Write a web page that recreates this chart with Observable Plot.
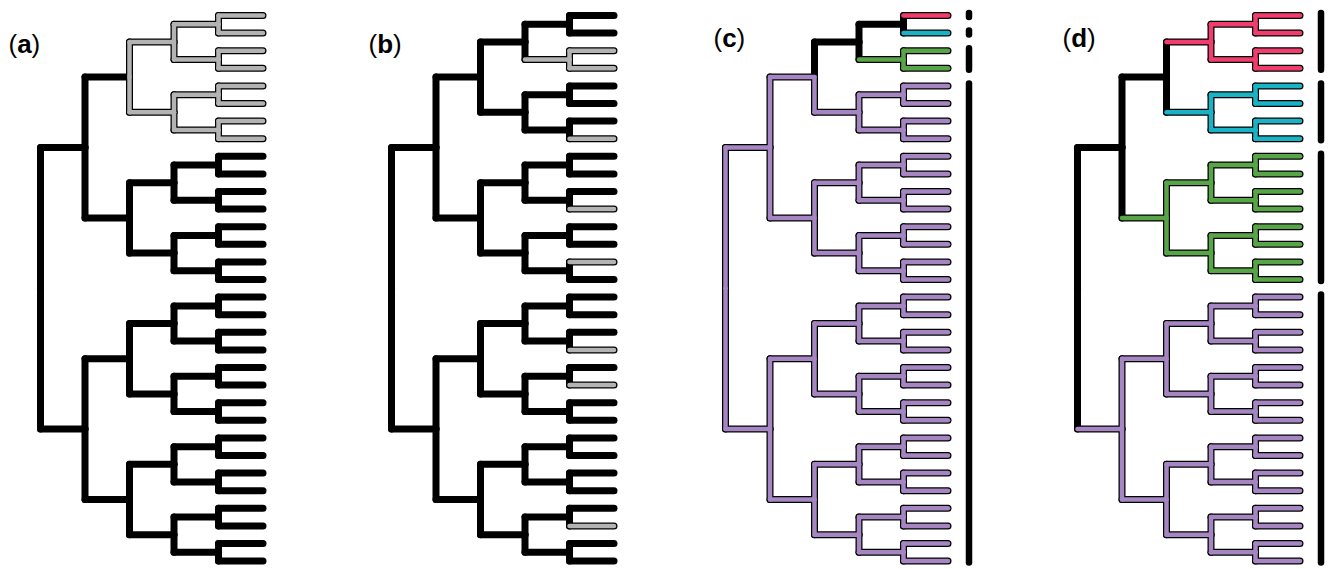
<!DOCTYPE html>
<html><head><meta charset="utf-8">
<script src="https://cdn.jsdelivr.net/npm/d3@7"></script>
<script src="https://cdn.jsdelivr.net/npm/@observablehq/plot@0.6"></script>
<style>
body{margin:0;background:#fff;}
#root{position:relative;width:1329px;height:569px;overflow:hidden;}
#root > svg{position:absolute;top:0;}
</style></head><body><div id="root"></div>
<script>
// ---------------- data ----------------
const panelIds = ["a", "b", "c", "d"];
const treeDepth = 5; // balanced tree: 2^5 = 32 tips
const colorNames = ["black", "grey", "purple", "red", "cyan", "green"];
const colorValues = ["#000000", "#b3b3b3", "#a586c2", "#ef3d6e", "#1ab3c6", "#58a547"];

// clades painted a colour (node id = "level-index")
const paintPanel = ["a", "b", "b", "b", "b", "b", "b", "b", "c", "c", "c", "c", "c", "d", "d", "d", "d"];
const paintNode  = ["2-0", "4-1", "5-7", "5-11", "5-14", "5-19", "5-21", "5-29", "0-0", "3-0", "4-1", "5-0", "5-1", "3-0", "3-1", "2-1", "1-1"];
const paintColor = ["grey", "grey", "grey", "grey", "grey", "grey", "grey", "grey", "purple", "black", "green", "red", "cyan", "red", "cyan", "green", "purple"];

// stem (horizontal) colour overrides
const stemPanel = ["a"];
const stemNode = ["2-0"];
const stemColor = ["black"];
// vertical half overrides
const vertPanel = ["c"];
const vertNode = ["3-0"];
const vertColor = ["black"];

// group bars to the right of tips
const barPanel = ["c", "c", "c", "c", "d", "d", "d", "d"];
const barFirst = [0, 1, 2, 4, 0, 4, 8, 16];
const barLast  = [0, 1, 3, 31, 3, 7, 15, 31];

// ---------------- layout ----------------
const panelLeft = [0, 351, 685, 1037];
const labelX = [8, 17, 28, 25];
const labelBaseline = [52, 52, 46, 46];
const H = 569;

const palette = Object.fromEntries(colorNames.map((n, i) => [n, colorValues[i]]));
const nLeaves = 2 ** treeDepth;

function nodeY(l, i) {
  const span = 2 ** (treeDepth - l);
  const first = i * span;
  return (first + first + span - 1) / 2;
}
function nodeColor(panel, l, i) {
  let best = -1, col = "black";
  paintPanel.forEach((p, k) => {
    if (p !== panel) return;
    const [pl, pi] = paintNode[k].split("-").map(Number);
    if (pl <= l && (i >> (l - pl)) === pi && pl > best) { best = pl; col = paintColor[k]; }
  });
  return col;
}
function override(panels, nodes, cols, panel, id) {
  for (let k = 0; k < panels.length; k++) if (panels[k] === panel && nodes[k] === id) return cols[k];
  return null;
}
function segments(panel) {
  const segs = [];
  for (let l = 1; l <= treeDepth; l++) {
    for (let i = 0; i < 2 ** l; i++) {
      const id = `${l}-${i}`;
      const pl = l - 1, pi = i >> 1;
      const py = nodeY(pl, pi), cy = nodeY(l, i);
      const vc = override(vertPanel, vertNode, vertColor, panel, id) || nodeColor(panel, pl, pi);
      const hc = override(stemPanel, stemNode, stemColor, panel, id) || nodeColor(panel, l, i);
      segs.push({x1: pl, y1: py, x2: pl, y2: cy, color: vc});
      segs.push({x1: pl, y1: cy, x2: l, y2: cy, color: hc});
    }
  }
  return segs;
}

const canvas = document.createElement("canvas");
const ctx = canvas.getContext("2d");
const FONT = "'Liberation Sans', Arial, Helvetica, sans-serif";
function measure(t, bold) { ctx.font = `${bold ? "bold " : ""}26px ${FONT}`; return ctx.measureText(t).width; }

const root = document.getElementById("root");
panelIds.forEach((panel, pIdx) => {
  const left = panelLeft[pIdx];
  const w = (pIdx < panelIds.length - 1 ? panelLeft[pIdx + 1] : 1329) - left;
  const segs = segments(panel);
  const colored = segs.filter(s => s.color !== "black");
  const bars = barPanel.map((p, k) => ({p, first: barFirst[k], last: barLast[k]})).filter(b => b.p === panel);
  const lx = labelX[pIdx], lb = labelBaseline[pIdx];
  const w1 = measure("(", false), w2 = measure(panel, true);
  const textOpts = {frameAnchor: "top-left", textAnchor: "start", lineAnchor: "bottom", fontSize: 26, fontFamily: FONT, fill: "#000", dy: lb};
  const svg = Plot.plot({
    width: w, height: H, margin: 0,
    x: {domain: [0, treeDepth], range: [40, 262.5], axis: null},
    y: {domain: [0, nLeaves - 1], range: [15, 560.6], axis: null},
    marks: [
      Plot.link(segs, {x1: "x1", y1: "y1", x2: "x2", y2: "y2", stroke: "#000", strokeWidth: 7, strokeLinecap: "round", strokeLinejoin: "round"}),
      Plot.link(colored, {x1: "x1", y1: "y1", x2: "x2", y2: "y2", stroke: d => palette[d.color], strokeWidth: 4.5, strokeLinecap: "round", strokeLinejoin: "round"}),
      Plot.ruleX(bars, {x: () => treeDepth, y1: "first", y2: "last", dx: 21, insetTop: -2, insetBottom: -2, stroke: "#000", strokeWidth: 6.5, strokeLinecap: "round"}),
      Plot.text([0], {...textOpts, text: () => "(", dx: lx}),
      Plot.text([0], {...textOpts, text: () => panel, dx: lx + w1, fontWeight: "bold"}),
      Plot.text([0], {...textOpts, text: () => ")", dx: lx + w1 + w2})
    ]
  });
  svg.style.left = left + "px";
  root.appendChild(svg);
});
</script></body></html>
